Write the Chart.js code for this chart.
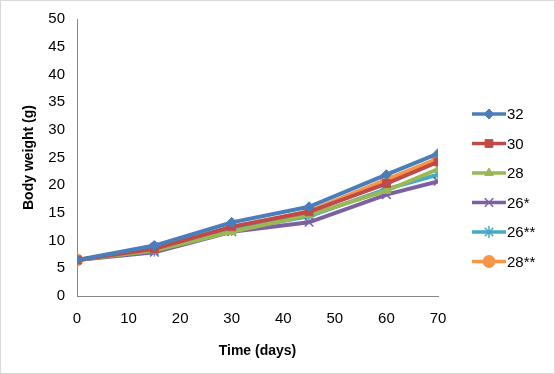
<!DOCTYPE html>
<html>
<head>
<meta charset="utf-8">
<script src="https://cdn.jsdelivr.net/npm/chart.js@4"></script>
<style>
  html, body { margin: 0; padding: 0; background: #fff; }
  #wrap { width: 553px; height: 372px; border: 1px solid #d9d9d9; }
</style>
</head>
<body>
<div id="wrap"><canvas id="chart" width="553" height="372"></canvas></div>
<script>
// days
const days = [0, 15, 30, 45, 60, 70]
const seriesNames = ["32", "30", "28", "26*", "26**", "28**"]
const w32 = [6.5, 9.1, 13.3, 16.1, 21.9, 25.7]
const w30 = [6.5, 8.5, 12.5, 15.2, 20.3, 24.2]
const w28 = [6.5, 8.2, 11.6, 14.6, 19.0, 22.9]
const w26a = [6.5, 7.9, 11.6, 13.3, 18.3, 20.7]
const w26b = [6.5, 8.2, 11.9, 14.4, 19.3, 21.9]
const w28b = [6.5, 8.7, 12.3, 15.3, 21.0, 24.8]
const yTicks = [0, 5, 10, 15, 20, 25, 30, 35, 40, 45, 50]

const colors = ["#4a7ebb", "#be4b48", "#98b954", "#7d60a0", "#46aac5", "#f79646"]
const markers = ["rectRot", "rect", "triangle", "crossRot", "star", "circle"]
const markerSizes = [5, 5.5, 5, 6, 6, 6]
const allValues = [w32, w30, w28, w26a, w26b, w28b]
const fontFam = "'Liberation Sans', sans-serif"

// legend drawn as line + marker, like the office chart
const lineLegend = {
  id: "lineLegend",
  afterDraw(chart) {
    const ctx = chart.ctx
    const x0 = 471, y0 = 113, step = 29.5
    chart.data.datasets.forEach((ds, i) => {
      const y = y0 + i * step
      ctx.save()
      ctx.strokeStyle = ds.borderColor
      ctx.fillStyle = ds.borderColor
      ctx.lineWidth = 3.5
      ctx.beginPath()
      ctx.moveTo(x0, y)
      ctx.lineTo(x0 + 34, y)
      ctx.stroke()
      ctx.lineWidth = ds.pointBorderWidth
      Chart.helpers.drawPoint(ctx, {
        pointStyle: ds.pointStyle,
        radius: ds.pointRadius,
        borderWidth: ds.pointBorderWidth,
        rotation: 0
      }, x0 + 17, y)
      ctx.fillStyle = "#000"
      ctx.font = "15px " + fontFam
      ctx.textBaseline = "middle"
      ctx.fillText(seriesNames[i], x0 + 35, y + 1)
      ctx.restore()
    })
  }
}

new Chart(document.getElementById("chart"), {
  type: "line",
  data: {
    labels: days,
    datasets: seriesNames.map((name, i) => ({
      label: name,
      data: allValues[i].map((v, j) => ({ x: days[j], y: v })),
      borderColor: colors[i],
      backgroundColor: colors[i],
      pointBackgroundColor: colors[i],
      pointBorderColor: colors[i],
      pointStyle: markers[i],
      pointRadius: markerSizes[i],
      pointBorderWidth: (markers[i] === "crossRot" || markers[i] === "star") ? 1.5 : 1,
      borderWidth: 4,
      tension: 0,
    })),
  },
  options: {
    responsive: false,
    animation: false,
    layout: { padding: { left: 20, top: 18, right: 116, bottom: 0 } },
    plugins: {
      legend: { display: false },
      tooltip: { enabled: false },
    },
    scales: {
      x: {
        type: "linear",
        min: 0,
        max: 70,
        ticks: { stepSize: 10, color: "#000", font: { family: fontFam, size: 15 }, padding: 8, maxRotation: 0 },
        grid: { display: false, drawOnChartArea: false, drawTicks: true, tickLength: 6, tickColor: "#868686" },
        border: { color: "#868686", width: 1 },
        title: { display: true, text: "Time (days)", color: "#000", font: { family: fontFam, size: 14, weight: "bold" }, padding: { top: 0, bottom: 13 } },
        afterFit: (s) => { s.height = 77 },
      },
      y: {
        min: 0,
        max: 50,
        afterBuildTicks: (s) => { s.ticks = yTicks.map((v) => ({ value: v })) },
        ticks: { color: "#000", font: { family: fontFam, size: 15 }, padding: 6 },
        grid: { display: false, drawOnChartArea: false, drawTicks: true, tickLength: 6, tickColor: "#868686" },
        border: { color: "#868686", width: 1 },
        title: { display: true, text: "Body weight (g)", color: "#000", font: { family: fontFam, size: 14, weight: "bold" }, padding: 0 },
        afterFit: (s) => { s.width = 56 },
      },
    },
  },
  plugins: [lineLegend],
})
</script>
</body>
</html>
